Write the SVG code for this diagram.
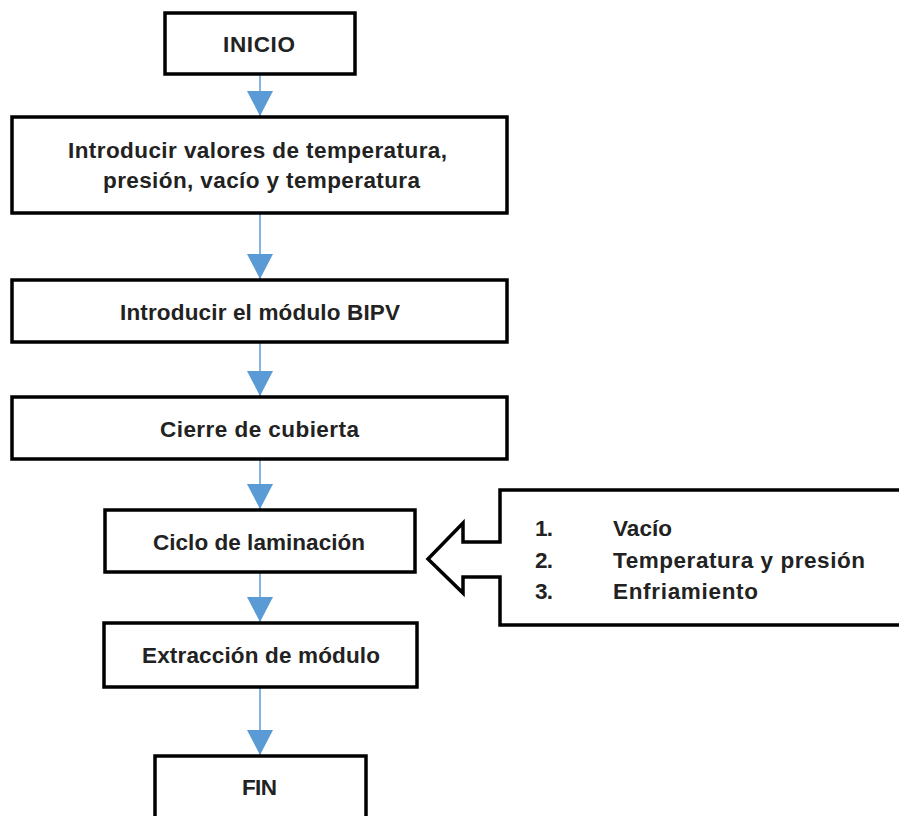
<svg xmlns="http://www.w3.org/2000/svg" width="899" height="816" viewBox="0 0 899 816">
<defs>
<style>
.box{fill:#fff;stroke:#000;stroke-width:3.5}
.t{font-family:"Liberation Sans",Arial,sans-serif;font-weight:bold;font-size:22.5px;fill:#222}
.c{stroke:#5B9BD5;stroke-width:1.5;fill:none}
</style>
<marker id="ah" markerUnits="userSpaceOnUse" markerWidth="26" markerHeight="26" viewBox="0 0 24 24" refX="23" refY="12" orient="auto">
<path d="M0,0 L23,12 L0,24 Z" fill="#5B9BD5"/>
</marker>
</defs>
<rect width="899" height="816" fill="#fff"/>
<g id="connectors">
<line class="c" x1="260" y1="75" x2="260" y2="116" marker-end="url(#ah)"/>
<line class="c" x1="260" y1="214" x2="260" y2="279" marker-end="url(#ah)"/>
<line class="c" x1="260" y1="343" x2="260" y2="396" marker-end="url(#ah)"/>
<line class="c" x1="260" y1="460" x2="260" y2="509" marker-end="url(#ah)"/>
<line class="c" x1="260" y1="573" x2="260" y2="622" marker-end="url(#ah)"/>
<line class="c" x1="260" y1="688" x2="260" y2="755" marker-end="url(#ah)"/>
</g>
<g id="inicio">
<rect class="box" x="165" y="13" width="190" height="61"/>
<text class="t" x="223" y="52" textLength="72">INICIO</text>
</g>
<g id="introducir-valores">
<rect class="box" x="12" y="117" width="495" height="96"/>
<text class="t" x="68" y="158" textLength="379">Introducir valores de temperatura,</text>
<text class="t" x="103" y="188" textLength="317">presión, vacío y temperatura</text>
</g>
<g id="introducir-modulo">
<rect class="box" x="12" y="280" width="495" height="62"/>
<text class="t" x="120" y="320" textLength="280">Introducir el módulo BIPV</text>
</g>
<g id="cierre">
<rect class="box" x="12" y="397" width="495" height="62"/>
<text class="t" x="160" y="437" textLength="199">Cierre de cubierta</text>
</g>
<g id="ciclo">
<rect class="box" x="105" y="510" width="310" height="62"/>
<text class="t" x="153" y="550" textLength="212">Ciclo de laminación</text>
</g>
<g id="extraccion">
<rect class="box" x="104" y="623" width="313" height="64"/>
<text class="t" x="142" y="663" textLength="238">Extracción de módulo</text>
</g>
<g id="fin">
<rect class="box" x="155" y="756" width="211" height="80"/>
<text class="t" x="242" y="795" textLength="35">FIN</text>
</g>
<g id="callout">
<polygon class="box" points="500,490 905,490 905,625 500,625 500,577 463,577 463,593 428,559 463,523 463,542 500,542"/>
<text class="t" x="535" y="536" textLength="18">1.</text>
<text class="t" x="535" y="568" textLength="18">2.</text>
<text class="t" x="535" y="599" textLength="18">3.</text>
<text class="t" x="613" y="536" textLength="59">Vacío</text>
<text class="t" x="613" y="568" textLength="252">Temperatura y presión</text>
<text class="t" x="613" y="599" textLength="145">Enfriamiento</text>
</g>
</svg>
